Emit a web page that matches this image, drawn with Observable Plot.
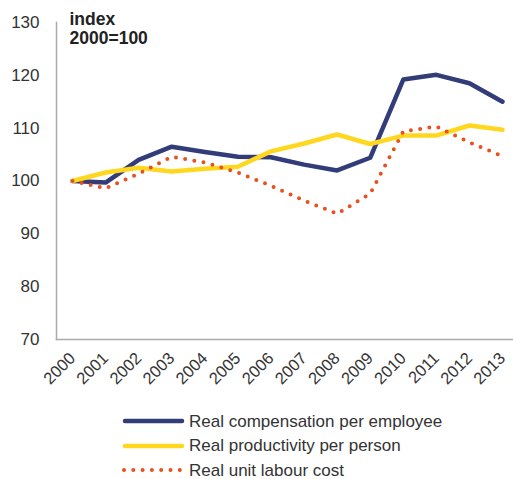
<!DOCTYPE html>
<html><head><meta charset="utf-8">
<script src="https://cdn.jsdelivr.net/npm/d3@7"></script>
<script src="https://cdn.jsdelivr.net/npm/@observablehq/plot@0.6"></script>
<style>
body{margin:0;background:#fff;font-family:"Liberation Sans",Arial,sans-serif;}
#wrap{position:relative;width:513px;height:479px;overflow:hidden;}
#legend{position:absolute;left:122px;top:409px;}
.row{display:flex;align-items:center;height:24.5px;font-size:17px;line-height:1;color:#333;}
.row svg{margin-right:4px;}
</style>
</head><body><div id="wrap"><div id="chart"></div><div id="legend"></div></div>
<script>
const years = [2000,2001,2002,2003,2004,2005,2006,2007,2008,2009,2010,2011,2012,2013];
const compensation   = [100, 99.7, 104.0, 106.5, 105.5, 104.6, 104.5, 103.1, 102.0, 104.4, 119.2, 120.1, 118.5, 115.0];
const productivity   = [100, 101.6, 102.5, 101.8, 102.3, 102.7, 105.6, 107.1, 108.8, 107.0, 108.6, 108.6, 110.5, 109.7];
const unitLabourCost = [100, 98.6, 101.4, 104.6, 103.5, 101.6, 99.1, 96.3, 93.8, 97.6, 109.4, 110.3, 107.3, 104.7];
const seriesNames = ["Real compensation per employee", "Real productivity per person", "Real unit labour cost"];
const seriesColors = ["#323c78", "#ffd71e", "#e8501f"];
const yTicks = [70, 80, 90, 100, 110, 120, 130];
const titleText = "index\n2000=100";

const rows = (vals, s) => years.map((y, i) => ({year: y, value: vals[i], series: s}));
const comp = rows(compensation, seriesNames[0]);
const prod = rows(productivity, seriesNames[1]);
const ulc = rows(unitLabourCost, seriesNames[2]);

const chart = Plot.plot({
  width: 513,
  height: 400,
  marginLeft: 56,
  marginRight: 0,
  marginTop: 22,
  marginBottom: 61,
  style: {fontFamily: '"Liberation Sans", Arial, sans-serif', color: "#333", background: "#fff"},
  x: {domain: [2000, 2013], range: [72, 502]},
  y: {domain: [70, 130]},
  marks: [
    Plot.axisY({ticks: yTicks, tickSize: 0, tickPadding: 17, fontSize: 17, fill: "#333", label: null}),
    Plot.axisX({ticks: years, tickFormat: d => String(d), tickSize: 0, tickPadding: 16, tickRotate: -45, fontSize: 16.5, fill: "#333", label: null}),
    Plot.frame({anchor: "left", stroke: "#aaa", strokeWidth: 1.5}),
    Plot.frame({anchor: "bottom", stroke: "#aaa", strokeWidth: 1.5}),
    Plot.line(comp, {x: "year", y: "value", stroke: seriesColors[0], strokeWidth: 4.5, strokeLinejoin: "round"}),
    Plot.line(prod, {x: "year", y: "value", stroke: seriesColors[1], strokeWidth: 4.5, strokeLinejoin: "round"}),
    Plot.line(ulc, {x: "year", y: "value", stroke: seriesColors[2], strokeWidth: 4, strokeLinecap: "round", strokeDasharray: "0 9.3"}),
    Plot.text([titleText], {frameAnchor: "top-left", text: d => d, dx: 13, dy: -11.4, lineAnchor: "top", textAnchor: "start", fontSize: 17.5, fontWeight: "bold", fill: "#222", lineHeight: 1.1})
  ]
});
document.getElementById("chart").append(chart);

const legend = document.getElementById("legend");
seriesNames.forEach((name, i) => {
  const row = document.createElement("div");
  row.className = "row";
  const dotted = i === 2;
  row.innerHTML = `<svg width="63" height="10"><line x1="${dotted?2:3}" x2="60" y1="5" y2="5" stroke="${seriesColors[i]}" stroke-width="${dotted?4:4.5}" stroke-linecap="round" ${dotted?'stroke-dasharray="0 9.3"':''}/></svg><span></span>`;
  row.querySelector("span").textContent = name;
  legend.append(row);
});
</script>
</body></html>
